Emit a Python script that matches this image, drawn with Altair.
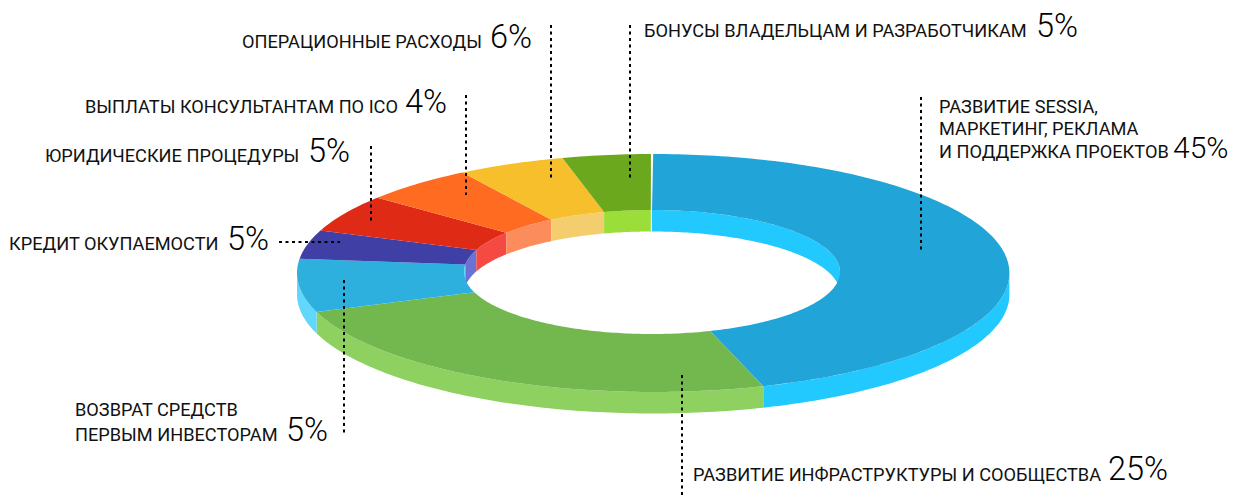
import math
import altair as alt
import pandas as pd

# Data
slice_names = ["Развитие", "Инфраструктура", "Возврат", "Кредит", "Юридические", "Выплаты", "Операционные", "Бонусы"]
slice_shares = [45.0, 24.7, 7.2, 3.9, 5.1, 5.1, 4.9, 4.0]
top_colors = ["#21A5D8", "#72B84F", "#2EB0DF", "#3F3FA5", "#DF2A15", "#FE6B21", "#F6BF2B", "#6BA81E"]
wall_colors = ["#22C9FF", "#8ED161", "#63D7FB", "#6A72D6", "#F44A42", "#FC8C5C", "#F4CD6F", "#9BDD39"]

label_lines = ["ОПЕРАЦИОННЫЕ РАСХОДЫ", "ВЫПЛАТЫ КОНСУЛЬТАНТАМ ПО ICO", "ЮРИДИЧЕСКИЕ ПРОЦЕДУРЫ", "КРЕДИТ ОКУПАЕМОСТИ",
               "ВОЗВРАТ СРЕДСТВ", "ПЕРВЫМ ИНВЕСТОРАМ", "РАЗВИТИЕ ИНФРАСТРУКТУРЫ И СООБЩЕСТВА",
               "БОНУСЫ ВЛАДЕЛЬЦАМ И РАЗРАБОТЧИКАМ", "РАЗВИТИЕ SESSIA,", "МАРКЕТИНГ, РЕКЛАМА", "И ПОДДЕРЖКА ПРОЕКТОВ"]
percent_labels = ["6%", "4%", "5%", "5%", "5%", "25%", "5%", "45%"]

# Layout (page pixels)
M = 8
CX, CY = 653.2 - M, 273 - M
RX, RY = 356.2, 119
ICX, ICY = 652 - M, 272 - M
IRX, IRY = 188, 62
DEPTH = 21.5
label_x = [242, 85, 45, 9, 75, 75, 693, 644, 939, 939, 939]
label_y = [48, 113, 162, 250, 416, 441, 481, 37, 113, 135, 158]
percent_x = [490, 405, 308, 227, 286, 1108, 1036, 1173]
percent_y = [48, 113, 162, 250, 441, 480, 37, 158]
percent_size = [32.5, 32.5, 32.5, 32.5, 32.5, 32.5, 32.5, 30]
vlines = [(551, 25, 179), (630, 25, 180), (466, 95, 195), (371, 146, 221), (344, 280, 434), (682, 375, 498), (921, 97, 252)]
hlines = [(279, 340, 242)]


def outer(t, dy=0):
    return [CX + RX * math.sin(t), CY - RY * math.cos(t) + dy]


def inner(t, dy=0):
    return [ICX + IRX * math.sin(t), ICY - IRY * math.cos(t) + dy]


def steps(a, b, deg=1.0):
    n = max(2, int(abs(b - a) / deg) + 2)
    return [math.radians(a + (b - a) * i / (n - 1)) for i in range(n)]


def feature(ring, key):
    ring = ring + [ring[0]]
    return {"type": "Feature", "properties": {"key": key}, "geometry": {"type": "Polygon", "coordinates": [ring]}}


walls, tops = [], []
start = 0.0
for name, share in zip(slice_names, slice_shares):
    end = start + share * 3.6
    # inner wall: back half of the hole (t within -90..90, i.e. 270..450)
    for lo, hi in ((start, end), (start - 360, end - 360)):
        a, b = max(lo, -90), min(hi, 90)
        if b > a:
            ts = steps(a, b)
            walls.append(feature([inner(t) for t in ts] + [inner(t, DEPTH) for t in reversed(ts)], "w" + name))
    # outer wall: front half of the rim
    a, b = max(start, 90), min(end, 270)
    if b > a:
        ts = steps(a, b)
        walls.append(feature([outer(t) for t in ts] + [outer(t, DEPTH) for t in reversed(ts)], "w" + name))
    ts = steps(start, end)
    tops.append(feature([outer(t) for t in ts] + [inner(t) for t in reversed(ts)], "t" + name))
    start = end

domain = ["w" + n for n in slice_names] + ["t" + n for n in slice_names]
colors = wall_colors + top_colors

donut = alt.Chart(alt.Data(values=walls + tops)).mark_geoshape(strokeWidth=0, stroke=None).encode(
    color=alt.Color("properties.key:N", scale=alt.Scale(domain=domain, range=colors), legend=None)
).project(type="identity", scale=1, translate=[0, 0])

vdf = pd.DataFrame(vlines, columns=["x", "y", "y2"])
vdf[["x", "y", "y2"]] -= M
hdf = pd.DataFrame(hlines, columns=["x", "x2", "y"])
hdf[["x", "x2", "y"]] -= M
dash = [3, 3.5]
v_rules = alt.Chart(vdf).mark_rule(color="#000000", strokeWidth=2, strokeDash=dash).encode(
    x=alt.X("x:Q", scale=None, axis=None), y=alt.Y("y:Q", scale=None, axis=None), y2="y2:Q")
h_rules = alt.Chart(hdf).mark_rule(color="#000000", strokeWidth=2, strokeDash=dash).encode(
    x=alt.X("x:Q", scale=None, axis=None), x2="x2:Q", y=alt.Y("y:Q", scale=None, axis=None))

ldf = pd.DataFrame({"t": label_lines, "x": [v - M for v in label_x], "y": [v - M for v in label_y]})
pdf = pd.DataFrame({"t": percent_labels, "x": [v - M for v in percent_x], "y": [v - M for v in percent_y], "s": percent_size})
labels = alt.Chart(ldf).mark_text(font="Roboto", fontSize=18.2, fontWeight=400, align="left", baseline="alphabetic", color="#111111").encode(
    x=alt.X("x:Q", scale=None, axis=None), y=alt.Y("y:Q", scale=None, axis=None), text="t:N")
percents = alt.Chart(pdf).mark_text(font="Roboto", fontWeight=300, align="left", baseline="alphabetic", color="#000000").encode(
    x=alt.X("x:Q", scale=None, axis=None), y=alt.Y("y:Q", scale=None, axis=None), text="t:N",
    size=alt.Size("s:Q", scale=None, legend=None))

chart = alt.layer(donut, v_rules, h_rules, labels, percents).properties(
    width=1221, height=488, padding=0, background="#ffffff",
    autosize=alt.AutoSizeParams(type="none")
).configure_view(stroke=None)

chart.save("out.html", embed_options={"renderer": "svg", "actions": False})
